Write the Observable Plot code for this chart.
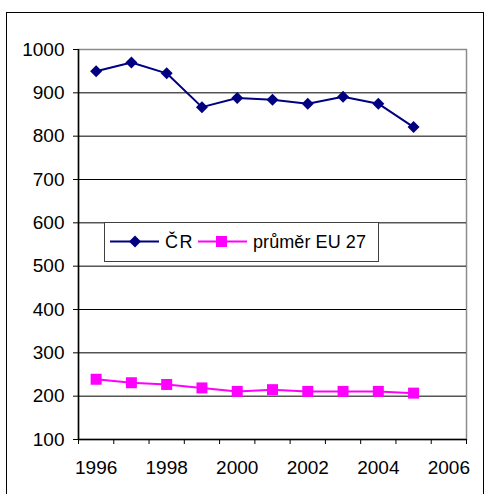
<!DOCTYPE html>
<html>
<head>
<meta charset="utf-8">
<script src="https://cdn.jsdelivr.net/npm/d3@7"></script>
<script src="https://cdn.jsdelivr.net/npm/@observablehq/plot@0.6"></script>
<style>
  body { margin: 0; background: #fff; }
  #wrap { position: relative; width: 484px; height: 494px; overflow: hidden; font-family: "Liberation Sans", Arial, sans-serif; }
  #border { position: absolute; left: 6px; top: 12px; width: 476px; height: 520px; border: 1.5px solid #000; }
  #chart { position: absolute; left: 0; top: 0; }
  #legend { position: absolute; left: 104px; top: 222px; width: 273px; height: 38px; border: 1.5px solid #404040; background: #fff; }
  #legend .item { position: absolute; top: 0; height: 38px; display: flex; align-items: center; white-space: nowrap; }
  #legend span { font-family: "Liberation Sans", Arial, sans-serif; font-size: 18px; color: #000; white-space: nowrap; display: inline-block; }
</style>
</head>
<body>
<div id="wrap">
  <div id="border"></div>
  <div id="chart"></div>
  <div id="legend"></div>
</div>
<script>
const years = [1996, 1997, 1998, 1999, 2000, 2001, 2002, 2003, 2004, 2005];
const crValues = [950, 970, 945, 867, 888, 884, 875, 891, 875, 821];
const euValues = [239, 231, 227, 219, 211, 215, 211, 211, 211, 207];
const seriesNames = ["ČR", "průměr EU 27"];
const seriesColors = ["#000080", "#FF00FF"];
const yTicks = [100, 200, 300, 400, 500, 600, 700, 800, 900, 1000];
const yGrid = [200, 300, 400, 500, 600, 700, 800, 900];
const xLabels = [1996, 1998, 2000, 2002, 2004, 2006];
const xBounds = [1995.5, 1996.5, 1997.5, 1998.5, 1999.5, 2000.5, 2001.5, 2002.5, 2003.5, 2004.5, 2005.5, 2006.5];

const crData = years.map((y, i) => ({year: y, value: crValues[i]}));
const euData = years.map((y, i) => ({year: y, value: euValues[i]}));

const chart = Plot.plot({
  width: 484,
  height: 494,
  marginLeft: 78,
  marginRight: 18,
  marginTop: 49,
  marginBottom: 55,
  x: {domain: [1995.5, 2006.5]},
  y: {domain: [100, 1000]},
  style: {fontFamily: "'Liberation Sans', Arial, sans-serif", fontSize: "19px", color: "#000", background: "transparent", overflow: "visible"},
  marks: [
    Plot.frame({stroke: "#8c8c8c", strokeWidth: 1.5}),
    Plot.ruleY(yGrid, {stroke: "#000", strokeWidth: 1}),
    Plot.ruleX([1995.5], {stroke: "#000", strokeWidth: 1.5}),
    Plot.ruleY([100], {stroke: "#000", strokeWidth: 1.5}),
    Plot.axisY(yTicks, {tickSize: 5, tickPadding: 9, fontSize: 19, label: null, tickFormat: d => String(d)}),
    Plot.axisX(xLabels, {tickSize: 0, tickPadding: 21, fontSize: 19, label: null, tickFormat: d => String(d)}),
    Plot.axisX(xBounds, {tickSize: 5, label: null, tickFormat: () => ""}),
    Plot.line(euData, {x: "year", y: "value", stroke: seriesColors[1], strokeWidth: 2}),
    Plot.dot(euData, {x: "year", y: "value", symbol: "square", r: 6.2, fill: seriesColors[1], stroke: null}),
    Plot.line(crData, {x: "year", y: "value", stroke: seriesColors[0], strokeWidth: 2}),
    Plot.dot(crData, {x: "year", y: "value", symbol: "diamond2", r: 5.4, fill: seriesColors[0], stroke: null})
  ]
});
document.getElementById("chart").appendChild(chart);

// Legend
const legend = document.getElementById("legend");
const items = [
  {left: 5, sym: "diamond", width: 29},
  {left: 93, sym: "square", width: 113}
];
items.forEach((it, i) => {
  const div = document.createElement("div");
  div.className = "item";
  div.style.left = it.left + "px";
  const color = seriesColors[i];
  const marker = it.sym === "diamond"
    ? `<polygon points="25,12.5 31,18.5 25,24.5 19,18.5" fill="${color}"/>`
    : `<rect x="18" y="13" width="11" height="11" fill="${color}"/>`;
  div.innerHTML = `<svg width="50" height="38" style="display:block"><line x1="0" x2="49" y1="18.5" y2="18.5" stroke="${color}" stroke-width="2"/>${marker}</svg><span style="margin-left:5px">${seriesNames[i]}</span>`;
  legend.appendChild(div);
  const span = div.querySelector("span");
  const w = span.getBoundingClientRect().width;
  const n = seriesNames[i].length;
  const ls = Math.max(-1, Math.min(3, (it.width - w) / n));
  span.style.letterSpacing = ls + "px";
});
</script>
</body>
</html>
